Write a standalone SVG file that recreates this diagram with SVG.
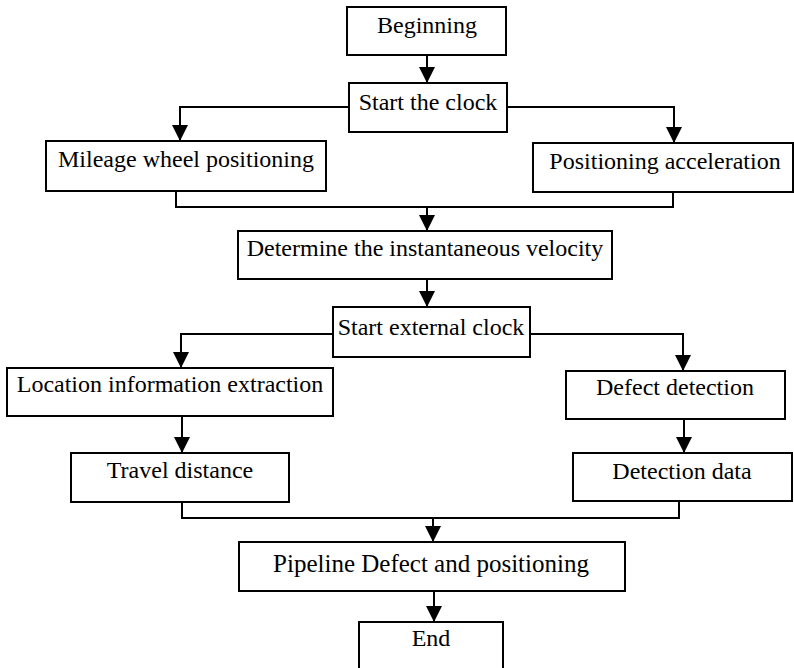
<svg xmlns="http://www.w3.org/2000/svg" width="794" height="668" viewBox="0 0 794 668">
  <defs>
    <marker id="arrow" markerUnits="userSpaceOnUse" markerWidth="16" markerHeight="16" refX="16" refY="8" orient="auto">
      <path d="M0,0 L16,8 L0,16 z" fill="#000"/>
    </marker>
    <style>
      .box { fill: #fff; stroke: #000; stroke-width: 2; }
      .lbl { font-family: "Liberation Serif", "Times New Roman", serif; font-size: 24px; fill: #000; text-anchor: middle; }
      .wire { fill: none; stroke: #000; stroke-width: 2; }
      .arr { fill: none; stroke: #000; stroke-width: 2; marker-end: url(#arrow); }
    </style>
  </defs>
  <rect width="794" height="668" fill="#fff"/>

  <g id="connectors">
    <line class="arr" x1="427" y1="55" x2="427" y2="83"/>
    <polyline class="arr" points="349,107 180,107 180,141"/>
    <polyline class="arr" points="507,107 674,107 674,143"/>
    <polyline class="wire" points="176,191 176,207 673,207 673,192"/>
    <line class="arr" x1="427" y1="207" x2="427" y2="231"/>
    <line class="arr" x1="427" y1="279" x2="427" y2="307"/>
    <polyline class="arr" points="333,334 181,334 181,368"/>
    <polyline class="arr" points="530,334 683,334 683,371"/>
    <line class="arr" x1="182" y1="416" x2="182" y2="453"/>
    <line class="arr" x1="684" y1="417" x2="684" y2="453"/>
    <polyline class="wire" points="182,502 182,518 679,518 679,501"/>
    <line class="arr" x1="433" y1="518" x2="433" y2="542"/>
    <line class="arr" x1="434" y1="591" x2="434" y2="622"/>
  </g>

  <g id="beginning">
    <rect class="box" x="347" y="7" width="159" height="48"/>
    <text class="lbl" x="427" y="33">Beginning</text>
  </g>
  <g id="start-clock">
    <rect class="box" x="349" y="83" width="158" height="49"/>
    <text class="lbl" x="428" y="110">Start the clock</text>
  </g>
  <g id="mileage-wheel">
    <rect class="box" x="46" y="141" width="280" height="50"/>
    <text class="lbl" x="186" y="167">Mileage wheel positioning</text>
  </g>
  <g id="positioning-acceleration">
    <rect class="box" x="533" y="143" width="260" height="49"/>
    <text class="lbl" x="665" y="169">Positioning acceleration</text>
  </g>
  <g id="velocity">
    <rect class="box" x="238" y="231" width="374" height="48"/>
    <text class="lbl" x="425" y="256">Determine the instantaneous velocity</text>
  </g>
  <g id="external-clock">
    <rect class="box" x="333" y="307" width="197" height="50"/>
    <text class="lbl" x="431" y="335">Start external clock</text>
  </g>
  <g id="location-info">
    <rect class="box" x="7" y="368" width="326" height="48"/>
    <text class="lbl" x="170" y="392">Location information extraction</text>
  </g>
  <g id="defect-detection">
    <rect class="box" x="566" y="371" width="219" height="48"/>
    <text class="lbl" x="675" y="395">Defect detection</text>
  </g>
  <g id="travel-distance">
    <rect class="box" x="71" y="453" width="218" height="49"/>
    <text class="lbl" x="180" y="478">Travel distance</text>
  </g>
  <g id="detection-data">
    <rect class="box" x="573" y="453" width="219" height="48"/>
    <text class="lbl" x="682" y="479">Detection data</text>
  </g>
  <g id="pipeline-defect">
    <rect class="box" x="239" y="542" width="386" height="49"/>
    <text class="lbl" x="431" y="572" style="font-size:25px">Pipeline Defect and positioning</text>
  </g>
  <g id="end">
    <rect class="box" x="359" y="622" width="144" height="60"/>
    <text class="lbl" x="431" y="646">End</text>
  </g>
</svg>
